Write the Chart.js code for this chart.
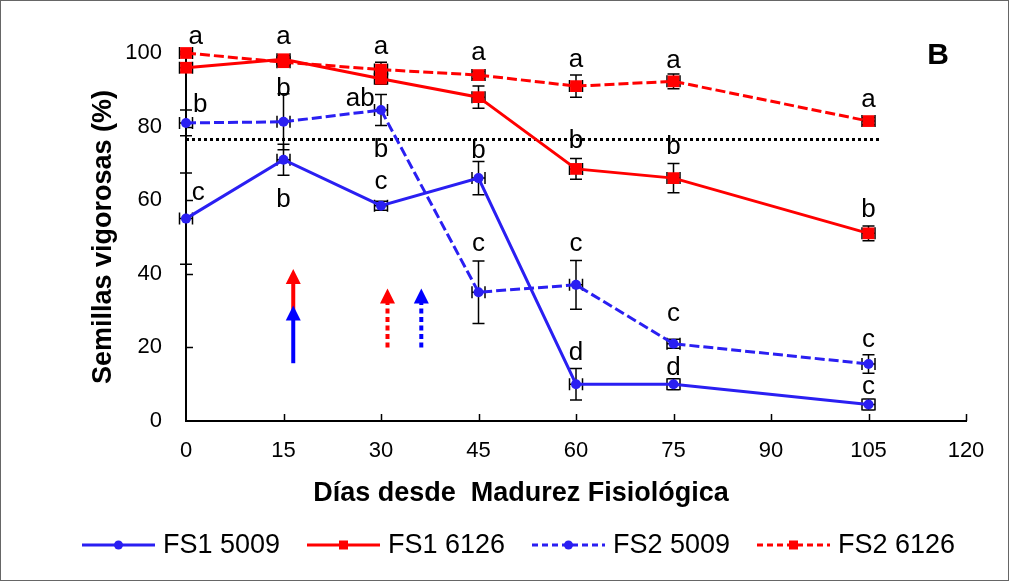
<!DOCTYPE html>
<html>
<head>
<meta charset="utf-8">
<script src="https://cdn.jsdelivr.net/npm/chart.js@4.4.0/dist/chart.umd.min.js"></script>
<style>
  html, body { margin: 0; padding: 0; background: #fff; }
  #wrap { width: 1009px; height: 581px; }
</style>
</head>
<body>
<div id="wrap"><canvas id="chart" width="1009" height="581"></canvas></div>
<script>
// días desde madurez fisiológica
const days = [0, 15, 30, 45, 60, 75, 105];

const fs1_5009 = [55, 71, 58.5, 66, 10, 10, 4.5];
const fs1_5009Err = [12.4, 4.2, 1.2, 4.5, 4.3, 1.5, 1.5];
const fs1_6126 = [96, 98.3, 93, 88, 68.5, 66, 51];
const fs1_6126Err = [1.2, 1, 1.5, 3, 2.8, 4, 2];
const fs2_5009 = [81, 81.3, 84.5, 35, 37, 21, 15.5];
const fs2_5009Err = [3.5, 7.6, 4.2, 8.5, 6.6, 1.2, 2.5];
const fs2_6126 = [100, 97.5, 95.5, 94, 91, 92.3, 81.5];
const fs2_6126Err = [0.5, 1, 2, 1, 3, 2, 1];
const xErr = 1.0;

const seriesNames = ["FS1 5009", "FS1 6126", "FS2 5009", "FS2 6126"];

// linea de referencia (punteada)
const refX = [0, 107];
const refY = 76.5;

// letras de significancia
const letX = [1.5, 2.2, 1.9, 15, 15, 15, 30, 26.8, 30, 30, 45, 45, 45, 60, 60, 60, 60, 75, 75, 75, 75, 105, 105, 105, 105];
const letY = [104.3, 86.5, 62, 104.3, 90.8, 60.6, 101.6, 88.1, 74.3, 65, 99.8, 74.1, 48, 98, 76.8, 48.1, 19.2, 97.7, 75, 29.1, 15.1, 87.2, 57.9, 21.9, 9.3];
const letText = ["a", "b", "c", "a", "b", "b", "a", "ab", "b", "c", "a", "b", "c", "a", "b", "c", "d", "a", "b", "c", "d", "a", "b", "c", "c"];

// flechas
const arrowX = [16.5, 16.5, 31, 36.2];
const arrowFrom = [29, 15.7, 20, 20];
const arrowTo = [41.3, 31.4, 36, 36];
const arrowColor = ["#ff0000", "#0000ff", "#ff0000", "#0000ff"];
const arrowDotted = [false, false, true, true];

const FONT = '"Liberation Sans", Arial, sans-serif';
const BLUE = "#2a1ff2";
const RED = "#ff0000";

function pts(ys) {
    return days.map(function (d, i) { return { x: d, y: ys[i] }; });
}

const dataSets = [
    { label: seriesNames[0], data: pts(fs1_5009), borderColor: BLUE, backgroundColor: BLUE,
      pointStyle: "circle", pointRadius: 5, borderDash: [], err: fs1_5009Err },
    { label: seriesNames[1], data: pts(fs1_6126), borderColor: RED, backgroundColor: RED,
      pointStyle: "rect", pointRadius: 8.3, borderDash: [], err: fs1_6126Err },
    { label: seriesNames[2], data: pts(fs2_5009), borderColor: BLUE, backgroundColor: BLUE,
      pointStyle: "circle", pointRadius: 5, borderDash: [10, 4], err: fs2_5009Err },
    { label: seriesNames[3], data: pts(fs2_6126), borderColor: RED, backgroundColor: RED,
      pointStyle: "rect", pointRadius: 8.3, borderDash: [10, 4], err: fs2_6126Err }
];
dataSets.forEach(function (ds) {
    ds.borderWidth = 3;
    ds.pointBorderWidth = 0;
    ds.pointHoverRadius = ds.pointRadius;
    ds.tension = 0;
    ds.clip = false;
});
dataSets.push({
    label: "ref", data: [{ x: refX[0], y: refY }, { x: refX[1], y: refY }],
    borderColor: "#000", borderWidth: 3, borderDash: [3, 3], pointRadius: 0, clip: false, isRef: true
});

const CAP = 6;
const errorBars = {
    id: "errorBars",
    beforeDatasetsDraw(chart) {
        const ctx = chart.ctx, xs = chart.scales.x, ys = chart.scales.y;
        ctx.save();
        ctx.strokeStyle = "#000";
        ctx.lineWidth = 1.5;
        // ticks interiores
        ctx.beginPath();
        for (let v = 15; v <= 120; v += 15) {
            const px = Math.round(xs.getPixelForValue(v)) + 0.5;
            ctx.moveTo(px, ys.bottom); ctx.lineTo(px, ys.bottom - 7);
        }
        for (let v = 20; v <= 100; v += 20) {
            const py = Math.round(ys.getPixelForValue(v)) + 0.5;
            ctx.moveTo(xs.left, py); ctx.lineTo(xs.left + 7, py);
        }
        ctx.stroke();
        dataSets.forEach(function (ds) {
            if (!ds.err) return;
            ds.data.forEach(function (p, i) {
                const px = xs.getPixelForValue(p.x), py = ys.getPixelForValue(p.y);
                const top = ys.getPixelForValue(p.y + ds.err[i]);
                const bot = ys.getPixelForValue(p.y - ds.err[i]);
                const l = xs.getPixelForValue(p.x - xErr), r = xs.getPixelForValue(p.x + xErr);
                ctx.beginPath();
                ctx.moveTo(px, top); ctx.lineTo(px, bot);
                ctx.moveTo(px - CAP, top); ctx.lineTo(px + CAP, top);
                ctx.moveTo(px - CAP, bot); ctx.lineTo(px + CAP, bot);
                ctx.moveTo(l, py); ctx.lineTo(r, py);
                ctx.moveTo(l, py - CAP); ctx.lineTo(l, py + CAP);
                ctx.moveTo(r, py - CAP); ctx.lineTo(r, py + CAP);
                ctx.stroke();
            });
        });
        ctx.restore();
    }
};

const extras = {
    id: "extras",
    afterDraw(chart) {
        const ctx = chart.ctx, xs = chart.scales.x, ys = chart.scales.y;
        ctx.save();
        // flechas
        for (let i = 0; i < arrowX.length; i++) {
            const px = xs.getPixelForValue(arrowX[i]);
            const y0 = ys.getPixelForValue(arrowFrom[i]);
            const y1 = ys.getPixelForValue(arrowTo[i]);
            ctx.strokeStyle = arrowColor[i];
            ctx.fillStyle = arrowColor[i];
            ctx.lineWidth = 4;
            ctx.setLineDash(arrowDotted[i] ? [5, 3.5] : []);
            ctx.beginPath();
            ctx.moveTo(px, y0); ctx.lineTo(px, y1 + 10);
            ctx.stroke();
            ctx.setLineDash([]);
            ctx.beginPath();
            ctx.moveTo(px, y1); ctx.lineTo(px - 7.5, y1 + 15); ctx.lineTo(px + 7.5, y1 + 15);
            ctx.closePath();
            ctx.fill();
        }
        // letras
        ctx.fillStyle = "#000";
        ctx.font = "26px " + FONT;
        ctx.textAlign = "center";
        ctx.textBaseline = "alphabetic";
        for (let i = 0; i < letText.length; i++) {
            const t = letText[i];
            const off = /[bdfhklt]/.test(t) ? 0.36 : 0.26;
            ctx.fillText(t, xs.getPixelForValue(letX[i]), ys.getPixelForValue(letY[i]) + off * 26);
        }
        // panel
        ctx.font = "bold 30px " + FONT;
        ctx.fillText("B", 938, 64);
        // titulos de ejes
        ctx.font = "bold 27px " + FONT;
        ctx.fillText("Días desde  Madurez Fisiológica", 521, 501);
        ctx.save();
        ctx.translate(111, 237);
        ctx.rotate(-Math.PI / 2);
        ctx.fillText("Semillas vigorosas (%)", 0, 0);
        ctx.restore();
        // leyenda
        ctx.font = "27px " + FONT;
        ctx.textAlign = "left";
        ctx.textBaseline = "middle";
        for (let i = 0; i < 4; i++) {
            const ds = dataSets[i];
            const x0 = 82 + 225 * i, ly = 545;
            ctx.strokeStyle = ds.borderColor;
            ctx.lineWidth = 3;
            ctx.setLineDash(ds.borderDash.length ? [6, 4] : []);
            ctx.beginPath();
            ctx.moveTo(x0, ly); ctx.lineTo(x0 + 73, ly);
            ctx.stroke();
            ctx.setLineDash([]);
            ctx.fillStyle = ds.borderColor;
            ctx.beginPath();
            if (ds.pointStyle === "circle") ctx.arc(x0 + 36.5, ly, 4.5, 0, Math.PI * 2);
            else ctx.rect(x0 + 32, ly - 4.5, 9, 9);
            ctx.fill();
            ctx.fillStyle = "#000";
            ctx.fillText(ds.label, x0 + 81, ly + 1);
        }
        // borde exterior
        ctx.strokeStyle = "#666";
        ctx.lineWidth = 1;
        ctx.strokeRect(0.5, 0.5, chart.width - 1, chart.height - 1);
        ctx.restore();
    }
};

const ctx = document.getElementById("chart").getContext("2d");
const myChart = new Chart(ctx, {
    type: "line",
    data: { datasets: dataSets },
    options: {
        responsive: false,
        animation: false,
        devicePixelRatio: 1,
        layout: { padding: { top: 53, right: 43, left: 0, bottom: 0 } },
        plugins: { legend: { display: false }, tooltip: { enabled: false } },
        scales: {
            x: {
                type: "linear", min: 0, max: 120,
                ticks: { stepSize: 15, padding: 17, color: "#000", font: { family: FONT, size: 22 } },
                grid: { display: false, drawTicks: false },
                border: { display: true, color: "#000", width: 2 },
                afterFit: function (scale) { scale.height = 160; }
            },
            y: {
                type: "linear", min: 0, max: 100,
                ticks: { stepSize: 20, padding: 24, color: "#000", font: { family: FONT, size: 22 } },
                grid: { display: false, drawTicks: false },
                border: { display: true, color: "#000", width: 2 },
                afterFit: function (scale) { scale.width = 186; }
            }
        }
    },
    plugins: [errorBars, extras]
});
</script>
</body>
</html>
